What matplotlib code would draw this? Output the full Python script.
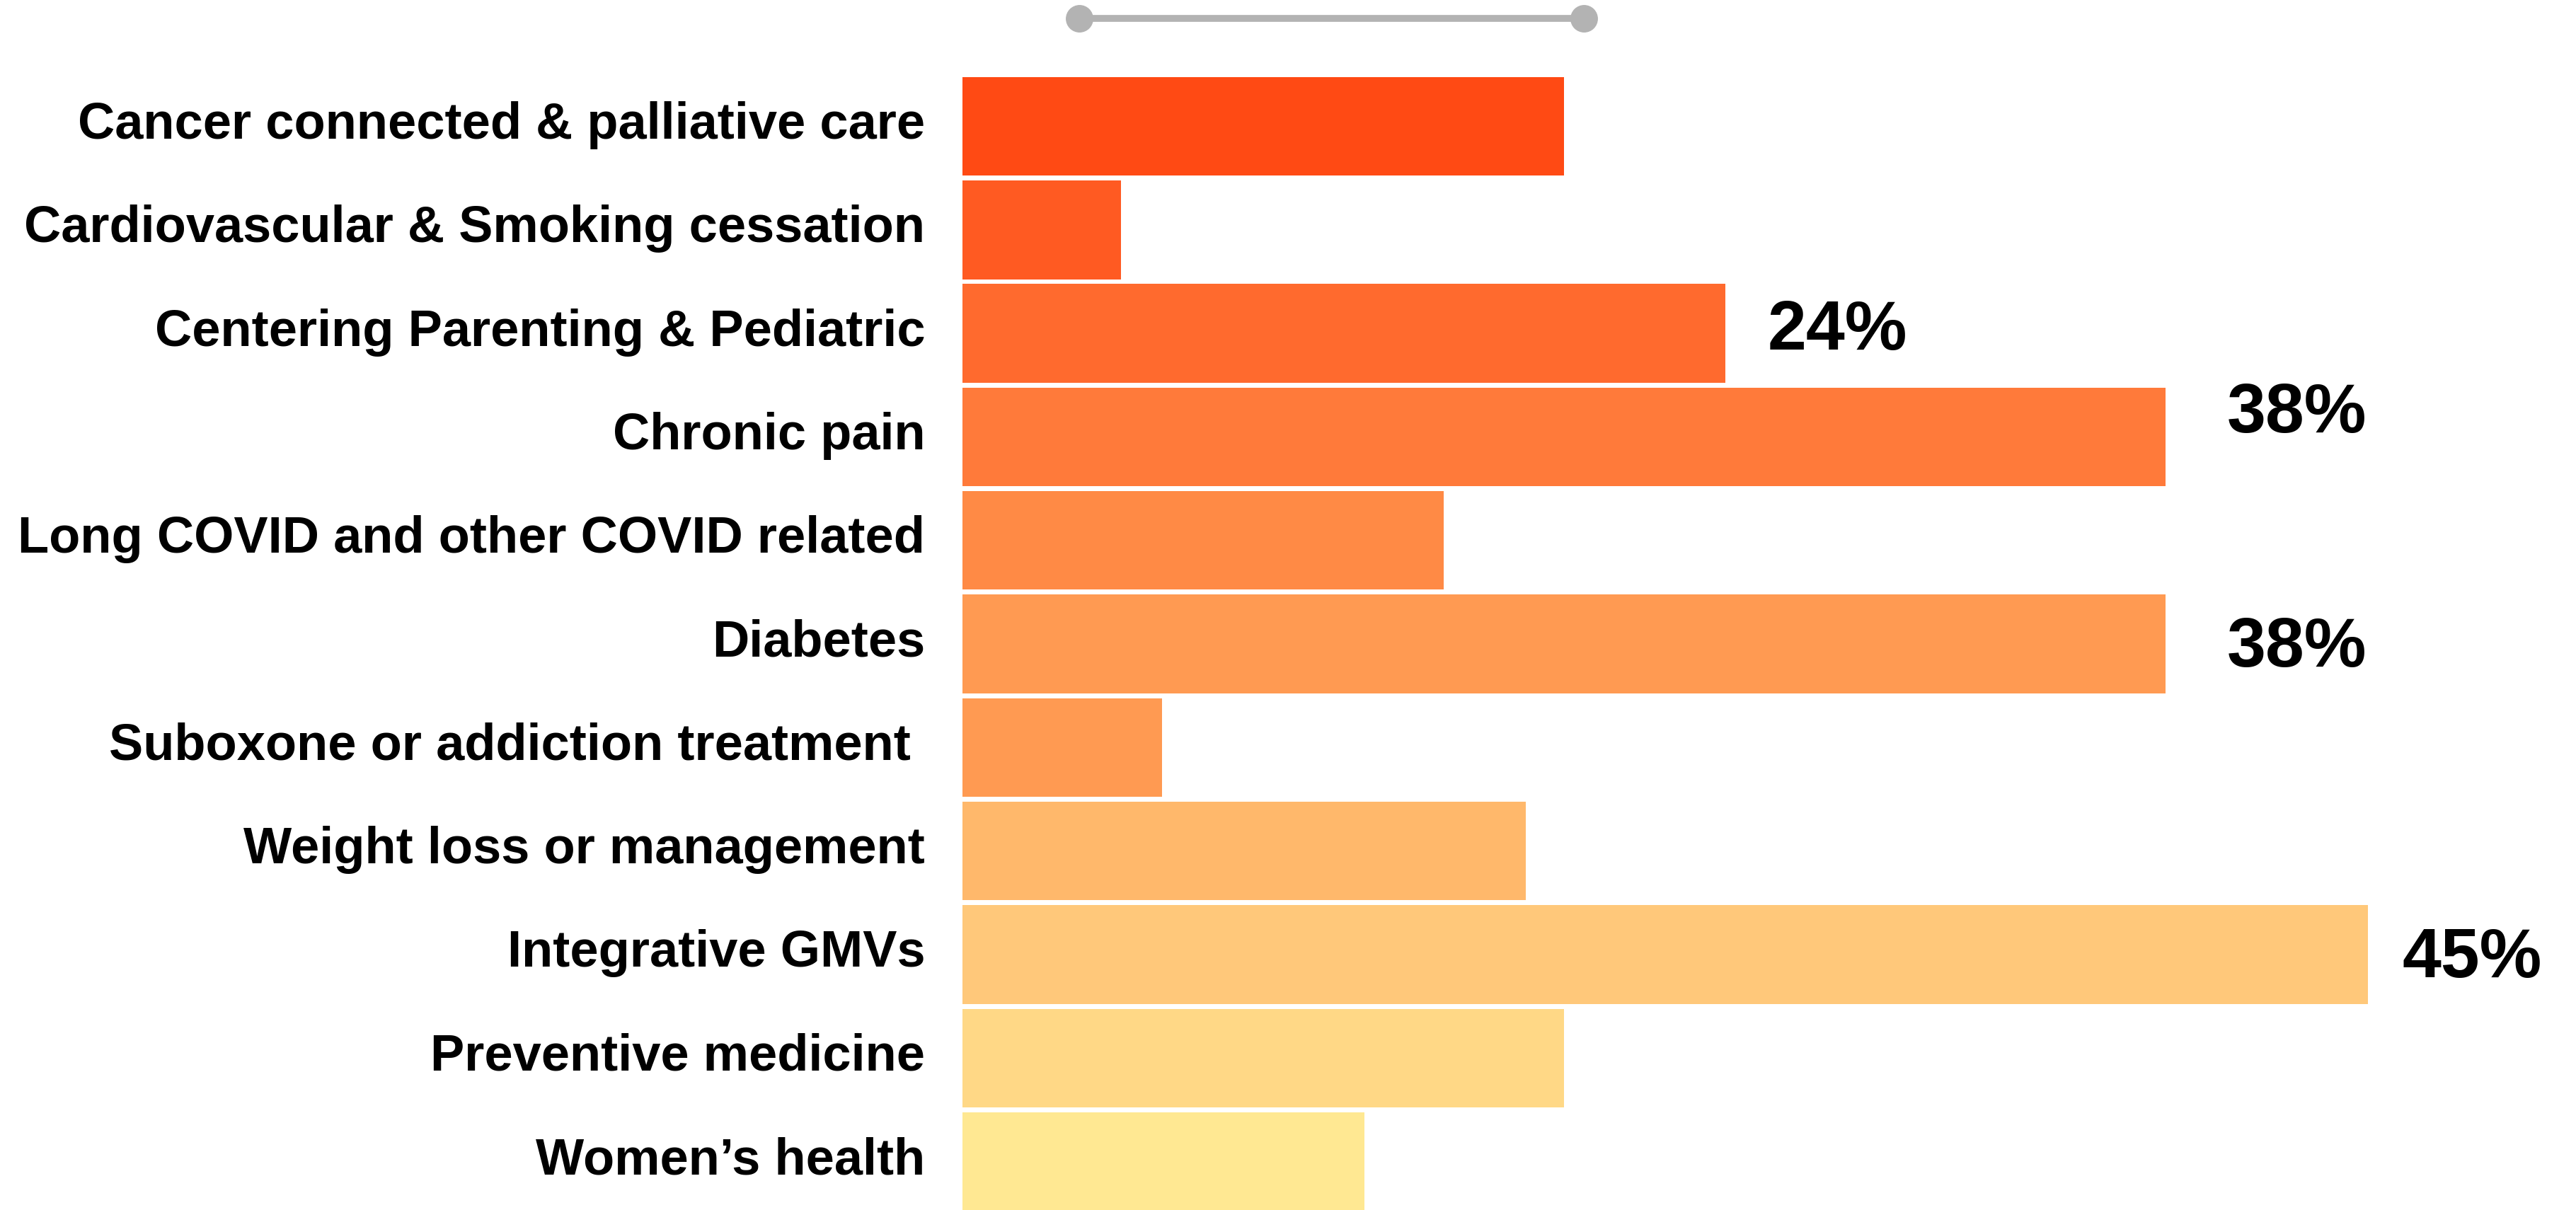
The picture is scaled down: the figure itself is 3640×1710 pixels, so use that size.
import matplotlib
matplotlib.use("Agg")
import matplotlib.pyplot as plt
from matplotlib.lines import Line2D
from matplotlib.transforms import ScaledTranslation

# --- Data ---
categories = [
    "Cancer connected & palliative care",
    "Cardiovascular & Smoking cessation",
    "Centering Parenting & Pediatric",
    "Chronic pain",
    "Long COVID and other COVID related",
    "Diabetes",
    "Suboxone or addiction treatment ",
    "Weight loss or management",
    "Integrative GMVs",
    "Preventive medicine",
    "Women\u2019s health",
]
values = [19.0, 5.0, 24.1, 38.0, 15.2, 38.0, 6.3, 17.8, 44.4, 19.0, 12.7]
bar_colors = [
    "#FF4A14", "#FF5A22", "#FF6A2E", "#FF7A3A", "#FF8A45", "#FF9A52",
    "#FF9A52", "#FFB86B", "#FFC87A", "#FFD886", "#FFE892",
]
# only some bars carry a value label
value_labels = {2: "24%", 3: "38%", 5: "38%", 8: "45%"}
# nudges in points (the chronic pain label sits high and further out)
label_dx = {2: 43, 3: 63, 5: 63, 8: 35}
label_dy = {2: 2, 3: 23, 5: -5, 8: -5}

# --- Figure ---
W, H, DPI = 3641, 1710, 100
fig = plt.figure(figsize=(W / DPI, H / DPI), dpi=DPI)
fig.patch.set_facecolor("white")
ax = fig.add_axes([1360 / W, 0, 1 - 1360 / W, 1])

font = "Liberation Sans"
y = list(range(len(categories)))
ax.barh(y, values, height=0.953, color=bar_colors, edgecolor="none")

ax.set_xlim(0, 51.0)
ax.set_ylim(10.468, -1.22)
ax.set_yticks(y)
ax.set_yticklabels(categories, fontsize=52, fontweight="bold", family=font)
ax.tick_params(axis="y", length=0, pad=38)
ax.set_xticks([])
for s in ax.spines.values():
    s.set_visible(False)

# category labels sit a little above the bar centre
shift = ScaledTranslation(0, 9 / DPI, fig.dpi_scale_trans)
for lab in ax.get_yticklabels():
    lab.set_transform(lab.get_transform() + shift)

for i, txt in value_labels.items():
    ax.annotate(txt, (values[i], i), xytext=(label_dx[i], label_dy[i]), textcoords="offset points",
                ha="left", va="center", fontsize=71, fontweight="bold", family=font)

# --- grey slider decoration at the top ---
fig.add_artist(Line2D([1525 / W, 2238 / W], [1 - 26 / H, 1 - 26 / H], color="#B3B3B3",
                      lw=7, marker="o", markersize=27, solid_capstyle="butt"))

fig.savefig("out.png", dpi=DPI, facecolor="white")
